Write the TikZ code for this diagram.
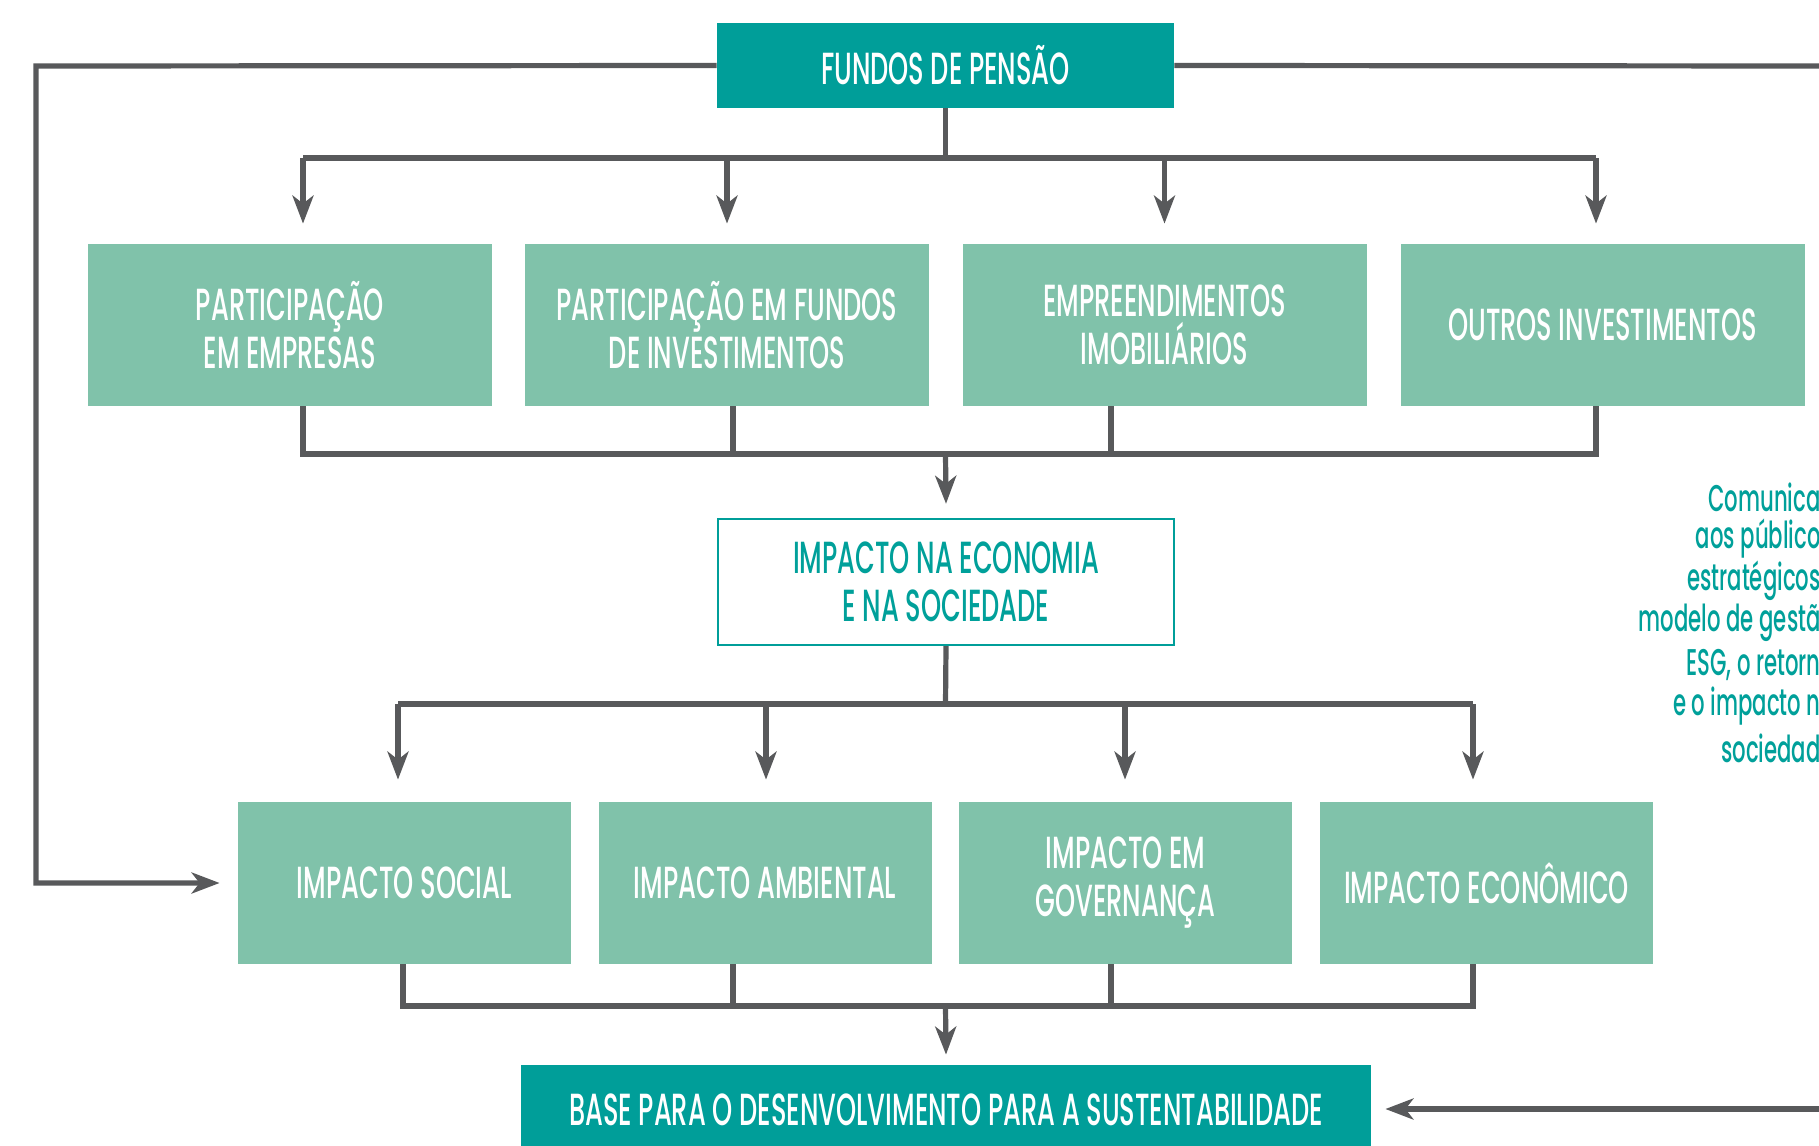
\documentclass[tikz,border=0pt]{standalone}
\usepackage{fontspec}
\setmainfont{Poppins}[FakeStretch=0.57,UprightFont=* Medium]
\usetikzlibrary{arrows.meta,calc}
\definecolor{darkteal}{HTML}{009E99}
\definecolor{lightgreen}{HTML}{80C2AA}
\definecolor{linegray}{HTML}{58595B}
\definecolor{tealtext}{HTML}{00A09A}
\begin{document}
\begin{tikzpicture}[x=0.5pt,y=-0.5pt,
  line/.style={draw=linegray,line width=2.6pt},
  arr/.style={line,-{Stealth[length=14pt,width=10.5pt,inset=4pt]}},
  headbox/.style={fill=darkteal,text=white,align=center,inner sep=0pt,font=\fontsize{22.5}{24}\selectfont},
  greenbox/.style={fill=lightgreen,text=white,align=center,inner sep=0pt,font=\fontsize{22.5}{24}\selectfont,minimum height=81pt},
  outlinebox/.style={draw=darkteal,line width=1.2pt,fill=white,text=tealtext,align=center,inner sep=0pt,font=\fontsize{22.5}{24}\selectfont},
  sidetext/.style={text=tealtext,anchor=east,inner sep=0pt,font=\fontsize{18.6}{21}\selectfont}]
\useasboundingbox (0,0) rectangle (1819,1145);
% main nodes
\node[headbox,minimum width=228.5pt,minimum height=42.5pt] (fundos) at (945.5,65.5) {FUNDOS DE PENSÃO};
\node[greenbox,minimum width=202pt] (p1) at (290,325) {PARTICIPAÇÃO\\EM EMPRESAS};
\node[greenbox,minimum width=202pt] (p2) at (727,325) {PARTICIPAÇÃO EM FUNDOS\\DE INVESTIMENTOS};
\node[greenbox,minimum width=202pt] (p3) at (1164.5,325) {EMPREENDIMENTOS\\IMOBILIÁRIOS};
\node[greenbox,minimum width=202pt] (p4) at (1602.5,325) {OUTROS INVESTIMENTOS};
\node[outlinebox,minimum width=228pt,minimum height=63pt] (eco) at (946,582) {IMPACTO NA ECONOMIA\\E NA SOCIEDADE};
\node[greenbox,minimum width=166.5pt] (i1) at (404.5,883) {IMPACTO SOCIAL};
\node[greenbox,minimum width=166.5pt] (i2) at (765,883) {IMPACTO AMBIENTAL};
\node[greenbox,minimum width=166.5pt] (i3) at (1125.5,883) {IMPACTO EM\\GOVERNANÇA};
\node[greenbox,minimum width=166.5pt] (i4) at (1486.5,883) {IMPACTO ECONÔMICO};
\node[headbox,minimum width=425pt,minimum height=45pt] (base) at (946,1110) {BASE PARA O DESENVOLVIMENTO PARA A SUSTENTABILIDADE};
% side text
\node[sidetext] (s1) at (1821,497) {Comunica};
\node[sidetext] (s2) at (1821,539) {aos público};
\node[sidetext] (s3) at (1821,581) {estratégicos\ };
\node[sidetext] (s4) at (1821,623) {modelo de gestã};
\node[sidetext] (s5) at (1821,665) {ESG, o retorn};
\node[sidetext] (s6) at (1821,706) {e o impacto n};
\node[sidetext] (s7) at (1821,748) {sociedad};
% fan-out from fundos
\coordinate (ja) at (945.5,158);
\coordinate (a1) at (303,158);
\coordinate (a4) at (1596,158);
\draw[line] (fundos.south) -- (ja);
\draw[line] (a1) -- (a4);
\draw[arr] (a1) -- ([yshift=10pt]a1 |- p1.north);
\draw[arr] (p2.north |- ja) -- ([yshift=10pt]p2.north);
\draw[arr] (p3.north |- ja) -- ([yshift=10pt]p3.north);
\draw[arr] (a4) -- ([yshift=10pt]a4 |- p4.north);
% merge into eco
\coordinate (jb) at (945.5,454);
\coordinate (b1) at (303,454);
\coordinate (b2) at (733,454);
\coordinate (b3) at (1111,454);
\coordinate (b4) at (1596,454);
\draw[line] (b1 |- p1.south) -- (b1) -- (b4) -- (b4 |- p4.south);
\draw[line] (b2 |- p2.south) -- (b2);
\draw[line] (b3 |- p3.south) -- (b3);
\draw[arr] (jb) -- ([yshift=7pt]eco.north);
% fan-out from eco
\coordinate (jc) at (945.5,704);
\coordinate (c1) at (398,704);
\coordinate (c2) at (766,704);
\coordinate (c3) at (1125,704);
\coordinate (c4) at (1473,704);
\draw[line] (eco.south) -- (jc);
\draw[line] (c1) -- (c4);
\draw[arr] (c1) -- ([yshift=11pt]c1 |- i1.north);
\draw[arr] (c2) -- ([yshift=11pt]c2 |- i2.north);
\draw[arr] (c3) -- ([yshift=11pt]c3 |- i3.north);
\draw[arr] (c4) -- ([yshift=11pt]c4 |- i4.north);
% merge into base
\coordinate (jd) at (945.5,1006);
\coordinate (d1) at (403,1006);
\coordinate (d2) at (733,1006);
\coordinate (d3) at (1111,1006);
\coordinate (d4) at (1473,1006);
\draw[line] (d1 |- i1.south) -- (d1) -- (d4) -- (d4 |- i4.south);
\draw[line] (d2 |- i2.south) -- (d2);
\draw[line] (d3 |- i3.south) -- (d3);
\draw[arr] (jd) -- ([yshift=5pt]base.north);
% outer loops
\coordinate (lc) at (36,66);
\draw[arr] (fundos.west) -- (lc) |- ([xshift=-9pt]i1.west);
\coordinate (rc) at (1819,66);
\draw[line] (fundos.east) -- (rc);
\coordinate (rb) at (1819,1109);
\draw[arr] (rb) -- ([xshift=7pt]base.east |- rb);
\end{tikzpicture}
\end{document}
